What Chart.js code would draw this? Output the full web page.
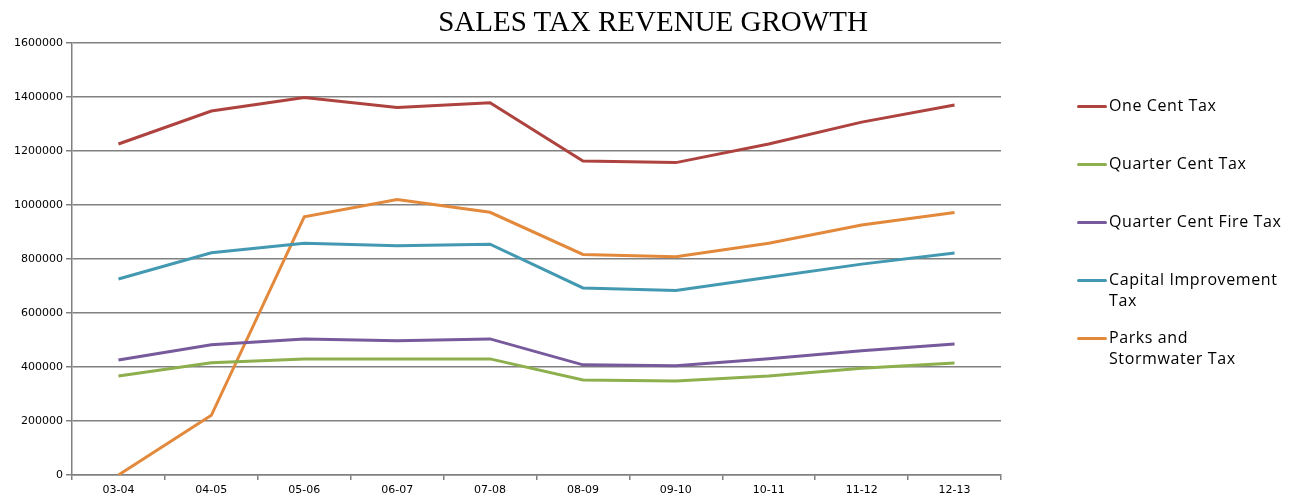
<!DOCTYPE html>
<html>
<head>
<meta charset="utf-8">
<script src="https://cdn.jsdelivr.net/npm/chart.js@4"></script>
<style>
  body { margin: 0; background: #fff; }
  #wrap { position: relative; width: 1301px; height: 497px; }
  #title {
    position: absolute; left: 353px; width: 600px; top: 5px; text-align: center;
    font-family: "Liberation Serif", "Times New Roman", serif; font-size: 29px; color: #000;
  }
  #legend { position: absolute; left: 1077px; top: 95px; font-family: "Open Sans", sans-serif; font-size: 16px; letter-spacing: 0.6px; color: #000; }
  .item { position: relative; height: 58px; line-height: 21px; }
  .item .swatch { position: absolute; left: 0; top: 10px; width: 30px; height: 3px; border-radius: 2px; }
  .item .txt { position: absolute; left: 32px; top: 0; width: 200px; }
</style>
</head>
<body>
<div id="wrap">
  <canvas id="Chart" width="1301" height="497"></canvas>
  <div id="title">SALES TAX REVENUE GROWTH</div>
  <div id="legend"></div>
</div>
<script>
let years = ['03-04', '04-05', '05-06', '06-07', '07-08', '08-09', '09-10', '10-11', '11-12', '12-13'];

let oneCent = [1226000, 1348000, 1398000, 1361000, 1379000, 1163000, 1157000, 1226000, 1307000, 1370000];
let quarterCent = [367000, 416000, 430000, 430000, 430000, 352000, 348000, 367000, 395000, 415000];
let quarterFire = [426000, 482000, 504000, 497000, 504000, 408000, 405000, 431000, 460000, 485000];
let capital = [726000, 823000, 858000, 849000, 855000, 693000, 683000, 732000, 781000, 822000];
let parks = [0, 221000, 956000, 1020000, 973000, 817000, 808000, 858000, 926000, 972000];

let names = ['One Cent Tax', 'Quarter Cent Tax', 'Quarter Cent Fire Tax', ['Capital Improvement', 'Tax'], ['Parks and', 'Stormwater Tax']];
let colors = ['#AE423F', '#8DAF4D', '#765A9B', '#4399B1', '#E3893C'];

let series = [oneCent, quarterCent, quarterFire, capital, parks];

let TimeData = {
    labels: years,
    datasets: series.map((vals, i) => ({
        label: Array.isArray(names[i]) ? names[i].join(' ') : names[i],
        data: vals,
        borderColor: colors[i],
        backgroundColor: colors[i],
        borderWidth: 3,
        pointRadius: 0,
        tension: 0,
    })),
};

let tickFont = { family: 'DejaVu Sans', size: 11 };

let chartdtl = {
    type: 'line',
    data: TimeData,
    options: {
        responsive: false,
        animation: false,
        layout: { padding: { top: 43, right: 300, left: 0, bottom: 0 } },
        plugins: { legend: { display: false }, title: { display: false }, tooltip: { enabled: false } },
        scales: {
            x: {
                offset: true,
                grid: { offset: true, drawOnChartArea: false, drawTicks: true, tickLength: 5, color: '#808080', lineWidth: 1.5 },
                border: { color: '#808080', width: 1.5 },
                ticks: { color: '#000', font: tickFont, padding: 4, maxRotation: 0, autoSkip: false },
                afterFit: (s) => { s.height = 22; },
            },
            y: {
                min: 0,
                max: 1600000,
                grid: { color: '#808080', tickLength: 6, lineWidth: 1.5 },
                border: { color: '#808080', width: 1.5 },
                ticks: { stepSize: 200000, color: '#000', font: tickFont, padding: 3, callback: (v) => String(v) },
                afterFit: (s) => { s.width = 72; },
            },
        },
    },
};

let graph = document.getElementById('Chart');
let presentdata = new Chart(graph, chartdtl);

// legend with wrapped labels like the original
let legend = document.getElementById('legend');
names.forEach((n, i) => {
    let item = document.createElement('div');
    item.className = 'item';
    let sw = document.createElement('div');
    sw.className = 'swatch';
    sw.style.background = colors[i];
    let tx = document.createElement('div');
    tx.className = 'txt';
    tx.innerHTML = Array.isArray(n) ? n.join('<br>') : n;
    item.appendChild(sw);
    item.appendChild(tx);
    legend.appendChild(item);
});
</script>
</body>
</html>
